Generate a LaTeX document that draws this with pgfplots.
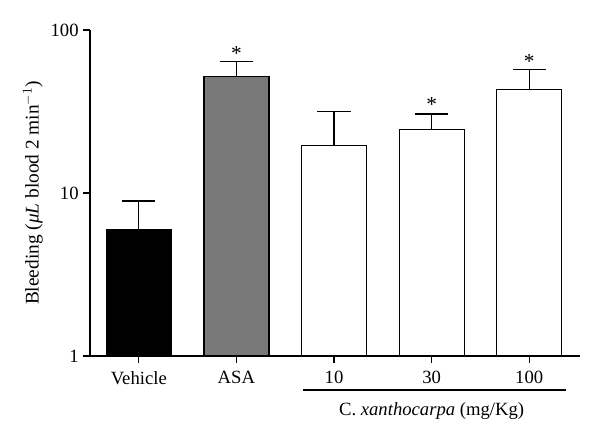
\documentclass[border=0pt]{standalone}
\usepackage{pgfplots}
\pgfplotsset{compat=1.18}
\usepackage{fontspec}
\setmainfont{Liberation Serif}
\begin{document}
\begin{tikzpicture}
\begin{axis}[
  width=367.5pt, height=244.5pt, scale only axis,
  ymode=log, log basis y=10, ymin=1, ymax=100,
  xmin=-0.5, xmax=4.52,
  axis x line*=bottom, axis y line*=left,
  ytick={1,10,100}, yticklabels={1,10,100},
  yminorticks=false,
  xtick={0,1,2,3,4}, xticklabels={Vehicle,ASA,10,30,100},
  xticklabel style={yshift=-3pt},
  tick align=outside, major tick length=5pt,
  tick style={black, line width=0.9pt},
  axis line style={line width=0.9pt},
  font=\fontsize{14}{16}\selectfont,
  ylabel={Bleeding (\textit{μL} blood 2 min$^{-1}$)},
  ylabel style={font=\fontsize{14.5}{16}\selectfont, yshift=-1pt},
  ybar, bar width=48.75pt, bar shift=0pt,
  error bars/y dir=plus, error bars/y explicit,
  error bars/error bar style={line width=0.9pt, black},
  error bars/error mark options={rotate=90, mark size=12.5pt, line width=0.9pt, black},
  clip=false,
]
\addplot[draw=black, line width=0.9pt, fill=gray!95!black] coordinates {(1,51.7) +- (0,12.5)};
\addplot[draw=black, line width=0.9pt, fill=black] coordinates {(0,5.99) +- (0,2.94)};
\addplot[draw=black, line width=0.9pt, fill=white] coordinates {(2,19.6) +- (0,11.9) (3,24.5) +- (0,6.0) (4,43.3) +- (0,13.8)};
\node[font=\fontsize{16}{16}\selectfont] at (axis cs:1,72) {*};
\node[font=\fontsize{16}{16}\selectfont] at (axis cs:3,35) {*};
\node[font=\fontsize{16}{16}\selectfont] at (axis cs:4,64) {*};
\draw[line width=0.9pt] ([yshift=-25.5pt]axis cs:1.68,1) -- ([yshift=-25.5pt]axis cs:4.38,1);
\node at ([yshift=-41pt]axis cs:3,1) {C. \textit{xanthocarpa} (mg/Kg)};
\end{axis}
\pgfresetboundingbox
\path (current axis.south west) ++(-67.5pt,-63.75pt) rectangle ([xshift=15pt,yshift=22.5pt]current axis.north east);
\end{tikzpicture}
\end{document}
